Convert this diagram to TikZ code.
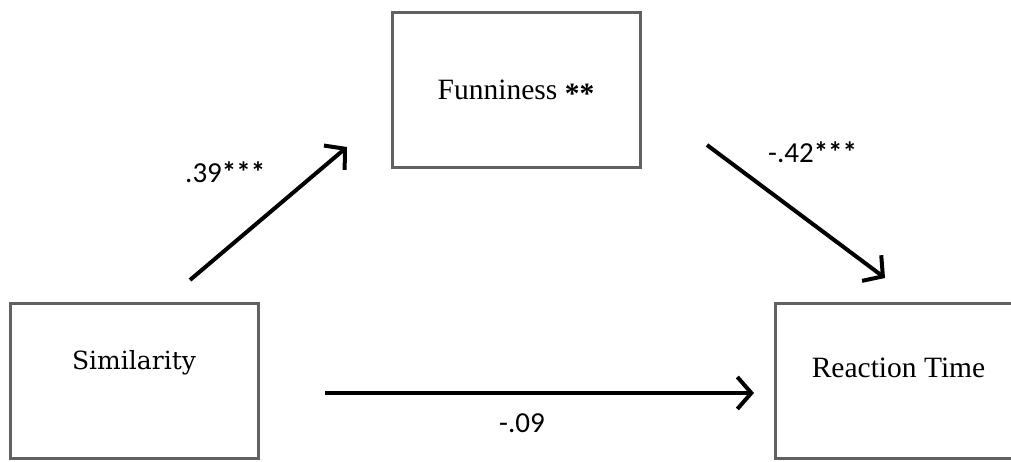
\documentclass[tikz,border=0pt]{standalone}
\usepackage{fontspec}
\setmainfont{Liberation Serif}
\newfontfamily\lblfont{Carlito}
\newfontfamily\simfont{DejaVu Serif}
\usetikzlibrary{arrows.meta}
\newcommand{\sigstars}[1]{\textbf{#1}}
\tikzset{
  boxnode/.style={draw=black!62, line width=3pt, minimum width=248pt, minimum height=155pt, inner sep=0pt, fill=white},
  boxtext/.style={inner sep=0pt, font=\fontsize{29.5}{32}\selectfont},
  coef/.style={inner sep=0pt, font=\lblfont\fontsize{29}{32}\selectfont},
  arr/.style={line width=4pt, -{Straight Barb[length=14pt,width=32pt,line width=4pt]}}
}
\begin{document}
\begin{tikzpicture}[x=1pt,y=-1pt]
\useasboundingbox (0,0) rectangle (1011,462);
\begin{scope}
\clip (0,0) rectangle (1011,462);
\node[boxnode] (fun) at (516,90.5) {};
\node[boxnode] (sim) at (134,380.5) {};
\node[boxnode] (rt) at (899,380.5) {};
\end{scope}
\node[boxtext, anchor=base] (funt) at (516,100) {Funniness \raisebox{-4pt}{\sigstars{**}}};
\node[inner sep=0pt, anchor=base, font=\simfont\fontsize{25}{28}\selectfont] (simt) at (134,369) {Similarity};
\node[boxtext, anchor=base] (rtt) at (898.5,377) {Reaction Time};
\coordinate (a1s) at (190,280);
\coordinate (a1e) at (347,147);
\coordinate (a2s) at (707,145);
\coordinate (a2e) at (885,278);
\coordinate (a3s) at (325,393);
\coordinate (a3e) at (754,393);
\draw[arr] (a1s) -- (a1e);
\draw[arr] (a2s) -- (a2e);
\draw[arr] (a3s) -- (a3e);
\node[coef, anchor=base west] (c1) at (185,183) {.39\sigstars{***}};
\node[coef, anchor=base west] (c2) at (768,163) {-.42\sigstars{***}};
\node[coef, anchor=base] (c3) at (522,432) {-.09};
\end{tikzpicture}
\end{document}
